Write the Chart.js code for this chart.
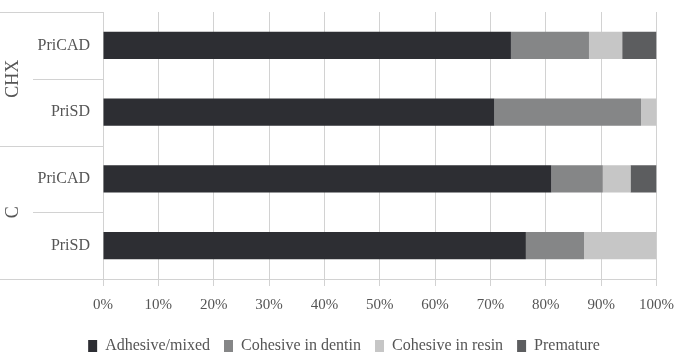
<!DOCTYPE html>
<html>
<head>
<meta charset="utf-8">
<script src="https://cdn.jsdelivr.net/npm/chart.js@4/dist/chart.umd.min.js"></script>
<style>
  html, body { margin: 0; padding: 0; background: #fff; }
  #wrap { width: 684px; height: 357px; }
</style>
</head>
<body>
<div id="wrap"><canvas id="myChart"></canvas></div>
<script>
// categories and their groups
var categories = ['PriCAD', 'PriSD', 'PriCAD', 'PriSD'];
var groups = ['CHX', 'CHX', 'C', 'C'];

// percentages per failure mode
var adhesive = [73.7, 70.7, 81.0, 76.4];
var dentin = [14.1, 26.5, 9.3, 10.5];
var resin = [6.0, 2.8, 5.0, 13.1];
var premature = [6.2, 0, 4.7, 0];

var xTicks = [0, 10, 20, 30, 40, 50, 60, 70, 80, 90, 100];

var serif = 'Liberation Serif';
var textColor = '#555555';
var lineColor = '#d2d2d2';

Chart.defaults.font.family = serif;
Chart.defaults.color = textColor;

//draws the outer group labels and the boxes on the left
var groupPlugin = {
  id: 'groupLabels',
  afterLayout: function(chart) {
    // legend sits a little right of centre in the original
    chart.legend.left += 14;
    chart.legend.right += 14;
  },
  afterDraw: function(chart) {
    var c = chart.ctx;
    var area = chart.chartArea;
    var y = chart.scales.y;
    var step = y.getPixelForValue(1) - y.getPixelForValue(0);
    c.save();
    c.strokeStyle = lineColor;
    c.lineWidth = 1;
    var i = 0;
    while (i < groups.length) {
      var j = i;
      while (j + 1 < groups.length && groups[j + 1] === groups[i]) j++;
      var top = y.getPixelForValue(i) - step / 2;
      var bottom = y.getPixelForValue(j) + step / 2;
      // outer lines
      c.beginPath();
      c.moveTo(0, Math.round(top) + 0.5);
      c.lineTo(area.left, Math.round(top) + 0.5);
      c.moveTo(0, Math.round(bottom) + 0.5);
      c.lineTo(area.left, Math.round(bottom) + 0.5);
      c.stroke();
      // inner separators
      for (var k = i; k < j; k++) {
        var sy = Math.round(y.getPixelForValue(k) + step / 2) + 0.5;
        c.beginPath();
        c.moveTo(33, sy);
        c.lineTo(area.left, sy);
        c.stroke();
      }
      // rotated group label
      c.save();
      c.translate(13, (top + bottom) / 2);
      c.rotate(-Math.PI / 2);
      c.fillStyle = textColor;
      c.font = '18px ' + serif;
      c.textAlign = 'center';
      c.textBaseline = 'middle';
      c.fillText(groups[i], 0, 0);
      c.restore();
      i = j + 1;
    }
    c.restore();
  }
};

var ctx = document.getElementById('myChart').getContext('2d');

var myChart = new Chart(ctx, {
  type: 'bar',
  data: {
    labels: categories,
    datasets: [
      { label: 'Adhesive/mixed', data: adhesive, backgroundColor: '#2d2e33' },
      { label: 'Cohesive in dentin', data: dentin, backgroundColor: '#858687' },
      { label: 'Cohesive in resin', data: resin, backgroundColor: '#c6c6c6' },
      { label: 'Premature', data: premature, backgroundColor: '#5c5d5f' }
    ]
  },
  options: {
    indexAxis: 'y',
    responsive: true,
    maintainAspectRatio: false,
    animation: false,
    barPercentage: 0.41,
    categoryPercentage: 1,
    layout: { padding: { top: 12, right: 24, left: 0, bottom: -7 } },
    scales: {
      x: {
        stacked: true,
        min: 0,
        max: 100,
        afterBuildTicks: function(scale) {
          scale.ticks = xTicks.map(function(v) { return { value: v }; });
        },
        grid: { color: lineColor, tickLength: 7, drawTicks: true },
        border: { color: lineColor },
        ticks: {
          font: { family: serif, size: 15 },
          padding: 10,
          maxRotation: 0,
          callback: function(v) { return v + '%'; }
        }
      },
      y: {
        stacked: true,
        afterFit: function(scale) {
          scale.width = 103;
          scale.paddingTop = 0;
          scale.paddingBottom = 0;
        },
        grid: { display: false },
        border: { display: false },
        ticks: {
          font: { family: serif, size: 16 },
          padding: 5
        }
      }
    },
    plugins: {
      legend: {
        position: 'bottom',
        labels: {
          font: { family: serif, size: 16 },
          boxWidth: 9,
          boxHeight: 12,
          padding: 14
        }
      },
      tooltip: { enabled: false }
    }
  },
  plugins: [groupPlugin]
});
</script>
</body>
</html>
